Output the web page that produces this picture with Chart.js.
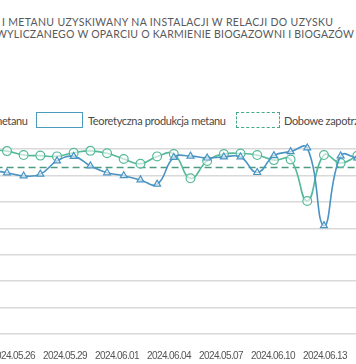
<!DOCTYPE html>
<html><head><meta charset="utf-8">
<script src="https://cdn.jsdelivr.net/npm/chart.js@4"></script>
<style>
html,body{margin:0;padding:0;background:#fff;}
#wrap{position:relative;width:356px;height:364px;overflow:hidden;background:#fff;}
.t{position:absolute;white-space:nowrap;font-family:Lato,"Open Sans",sans-serif;line-height:1;}
.title{font-size:10.5px;color:#58595b;}
.leg{font-size:11px;color:#4a4a4a;}
.box{position:absolute;box-sizing:border-box;background:#fff;}
#box1{left:36px;top:112px;width:47px;height:16px;border:1.6px solid #4a9bbd;}
#box2{left:236px;top:112px;width:44px;height:16px;border:1.6px dashed #46a886;}
#c{position:absolute;left:-40px;top:140px;}
</style></head>
<body><div id="wrap">
<div id="title1" class="t title">I METANU UZYSKIWANY NA INSTALACJI W RELACJI DO UZYSKU</div>
<div id="title2" class="t title">WYLICZANEGO W OPARCIU O KARMIENIE BIOGAZOWNI I BIOGAZÓW</div>
<div id="leg1" class="t leg">metanu</div>
<div id="box1" class="box"></div>
<div id="leg2" class="t leg">Teoretyczna produkcja metanu</div>
<div id="box2" class="box"></div>
<div id="leg3" class="t leg">Dobowe zapotrzebowanie</div>
<canvas id="c" width="430" height="224" style="width:430px;height:224px"></canvas>
</div>
<script>
// x tick labels (as printed on the original axis)
const tickLabels = ['2024.05.26','2024.05.29','2024.06.01','2024.06.04','2024.05.07','2024.06.10','2024.06.13'];
// daily point index (one point per day)
const dayIndex = [-1,0,1,2,3,4,5,6,7,8,9,10,11,12,13,14,15,16,17,18,19,20,21];
// circles series (…metanu)
const produkcjaMetanu = [6960,6920,6770,6750,6720,6860,6930,6840,6620,6440,6720,6810,5890,6550,6810,6830,6770,6580,6600,5030,6770,6470,6740];
// triangles series (Teoretyczna produkcja metanu)
const teoretycznaProdukcja = [6200,6100,5980,6050,6550,6720,6360,6100,5990,5830,5670,6680,6730,6660,6700,6700,6110,6750,6900,7040,4100,6740,6660];
// daily demand (dashed line)
const dobowe = [6300];
const yTicks = [0,1000,2000,3000,4000,5000,6000,7000];

function place(id, left, right, cy, ls) {
  const el = document.getElementById(id);
  el.style.letterSpacing = '0px';
  const r = el.getBoundingClientRect();
  const n = el.textContent.length;
  if (ls === undefined) ls = (right - left - r.width) / (n - 1);
  el.style.letterSpacing = ls + 'px';
  const r2 = el.getBoundingClientRect();
  if (left === null) left = right - r2.width + ls;
  el.style.left = left + 'px';
  el.style.top = (cy - r2.height / 2) + 'px';
  return ls;
}
place('title1', 2, 333, 22.5);
place('title2', -4, 354, 34);
const lls = place('leg2', 88, 226, 120);
place('leg1', null, 28, 120, lls);
place('leg3', 284, 400, 120, lls);

const xMin = -2, xMax = 22;
const circleColor = '#56b999';
const triColor = '#4a94c4';
const demandColor = '#4f9b80';

const tightText = {
  id: 'tightText',
  beforeInit(chart) { chart.ctx.letterSpacing = '-0.6px'; },
  beforeDraw(chart) { chart.ctx.letterSpacing = '-0.6px'; }
};

new Chart(document.getElementById('c'), {
  type: 'line',
  plugins: [tightText],
  data: {
    datasets: [
      {
        label: 'Teoretyczna produkcja metanu',
        data: dayIndex.map((d, i) => ({x: d, y: teoretycznaProdukcja[i]})),
        xAxisID: 'x', yAxisID: 'y',
        borderColor: triColor, borderWidth: 1.6,
        pointStyle: 'triangle', pointRadius: 4, pointBorderWidth: 1.2,
        pointBackgroundColor: 'rgba(255,255,255,0.6)', pointBorderColor: triColor,
        tension: 0.45, clip: false
      },
      {
        label: 'metanu',
        data: dayIndex.map((d, i) => ({x: d, y: produkcjaMetanu[i]})),
        xAxisID: 'x', yAxisID: 'y',
        borderColor: circleColor, borderWidth: 1.6,
        pointStyle: 'circle', pointRadius: 4.4, pointBorderWidth: 1.2,
        pointBackgroundColor: 'rgba(255,255,255,0.6)', pointBorderColor: circleColor,
        tension: 0.45, clip: false
      },
      {
        label: 'Dobowe zapotrzebowanie',
        data: [{x: xMin, y: dobowe[0]}, {x: xMax, y: dobowe[0]}],
        xAxisID: 'x', yAxisID: 'y',
        borderColor: demandColor, borderWidth: 1.5, borderDash: [7, 4],
        pointRadius: 0, tension: 0
      }
    ]
  },
  options: {
    responsive: false, animation: false, devicePixelRatio: 1,
    layout: {padding: {left: 13.6, right: 16, top: 9, bottom: 3}},
    plugins: {legend: {display: false}, title: {display: false}, tooltip: {enabled: false}},
    scales: {
      x: {type: 'linear', min: xMin, max: xMax, display: false},
      xl: {
        type: 'linear', position: 'bottom', min: -0.758, max: 6.942, bounds: 'data',
        afterBuildTicks: s => { s.ticks = tickLabels.map((_, i) => ({value: i})); },
        afterFit: s => { s.height = 27; },
        grid: {display: false, drawTicks: false}, border: {display: false},
        ticks: {
          autoSkip: false, maxRotation: 0, padding: 16, color: '#555',
          font: {family: '"Liberation Sans",Arial,sans-serif', size: 10},
          callback: v => tickLabels[v] ?? ''
        }
      },
      y: {
        type: 'linear', min: yTicks[0], max: yTicks[yTicks.length - 1],
        afterBuildTicks: s => { s.ticks = yTicks.map(v => ({value: v})); },
        afterFit: s => { s.width = 0; },
        ticks: {display: false},
        grid: {color: '#d9d9d9', lineWidth: 1.5, drawTicks: false},
        border: {display: false}
      }
    }
  }
});
</script>
</body></html>
